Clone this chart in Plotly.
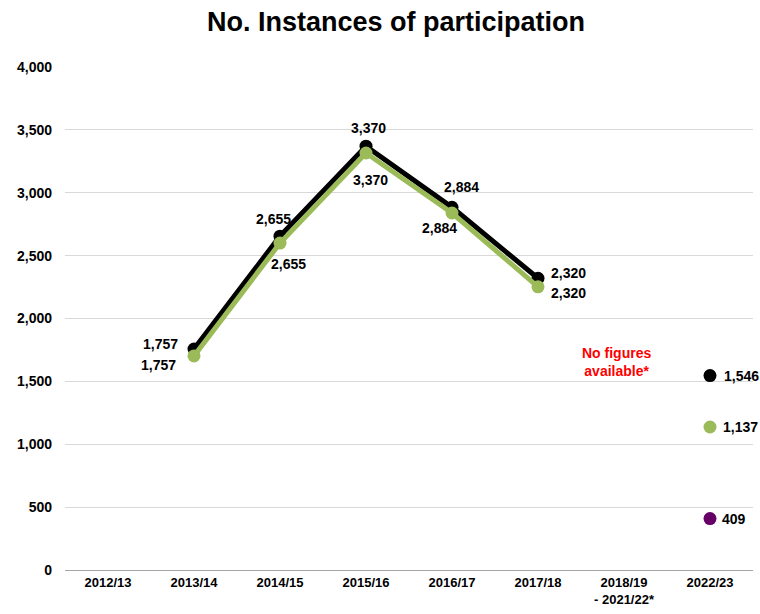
import plotly.graph_objects as go

# categories and series
years = ["2012/13", "2013/14", "2014/15", "2015/16", "2016/17", "2017/18",
         "2018/19<br>- 2021/22*", "2022/23"]
line_years = years[1:6]
total = [1757, 2655, 3370, 2884, 2320]
total_labels = ["1,757", "2,655", "3,370", "2,884", "2,320"]
green_line = [1702, 2600, 3316, 2839, 2252]
green_labels = ["1,757", "2,655", "3,370", "2,884", "2,320"]
latest_year = years[7]
latest_black = 1546
latest_green = 1137
latest_purple = 409

BLACK = "#000000"
GREEN = "#9BBB59"
PURPLE = "#660066"
label_font = dict(family="Arial", size=14, color="black")

# pixel offsets of the data labels from their points
black_off = [(-34, -5), (-7, -17), (2, -18), (9, -20), (30, -5)]
green_off = [(-36, 9), (8, 21), (4, 27), (-13, 15), (30, 6)]

fig = go.Figure()

fig.add_trace(go.Scatter(
    x=line_years, y=total, mode="lines+markers",
    line=dict(color=BLACK, width=5), marker=dict(color=BLACK, size=13),
))
fig.add_trace(go.Scatter(
    x=line_years, y=green_line, mode="lines+markers",
    line=dict(color=GREEN, width=5), marker=dict(color=GREEN, size=13),
))

for xs, ys, labels, offs in [(line_years, total, total_labels, black_off),
                             (line_years, green_line, green_labels, green_off)]:
    for x, y, t, (dx, dy) in zip(xs, ys, labels, offs):
        fig.add_annotation(x=x, y=y, text=f"<b>{t}</b>", showarrow=False,
                           xshift=dx, yshift=-dy, font=label_font)

# single 2022/23 points
for val, col, dx in [(latest_black, BLACK, 31), (latest_green, GREEN, 30), (latest_purple, PURPLE, 24)]:
    fig.add_trace(go.Scatter(
        x=[latest_year], y=[val], mode="markers",
        marker=dict(color=col, size=13),
    ))
    fig.add_annotation(x=latest_year, y=val, text=f"<b>{val:,}</b>", showarrow=False,
                       xshift=dx, font=label_font)

fig.add_annotation(
    x=years[6], y=1653, text="<b>No figures<br>available*</b>", xshift=-8,
    showarrow=False, font=dict(family="Arial", size=14, color="#FF0000"),
)

fig.update_layout(
    width=760, height=614,
    paper_bgcolor="white", plot_bgcolor="white",
    showlegend=False,
    margin=dict(l=65, r=7, t=67, b=44),
    title=dict(text="<b>No. Instances of participation</b>", x=396 / 760, xanchor="center",
               y=1 - 22 / 614, yanchor="middle", font=dict(family="Arial", size=27, color="black")),
    font=dict(family="Arial"),
)
fig.update_xaxes(
    type="category", categoryorder="array", categoryarray=years,
    range=[-0.5, 7.5], showgrid=False, automargin=False,
    showline=True, linecolor="#A6A6A6", linewidth=1,
    tickfont=dict(family="Arial", size=13, color="black"),
    tickprefix="<b>", ticksuffix="</b>",
)
fig.update_yaxes(
    range=[0, 4000], dtick=500, tickformat=",", automargin=False,
    showgrid=True, gridcolor="#D9D9D9", gridwidth=1,
    zeroline=False, ticks="", ticklabelstandoff=12,
    tickfont=dict(family="Arial", size=14, color="black"),
    tickprefix="<b>", ticksuffix="</b>",
)

# drop the page's default body margin so the figure fills the window
fig.write_html("out.html", config={"displayModeBar": False},
               post_script="document.body.style.margin='0';document.body.style.overflow='hidden';")
